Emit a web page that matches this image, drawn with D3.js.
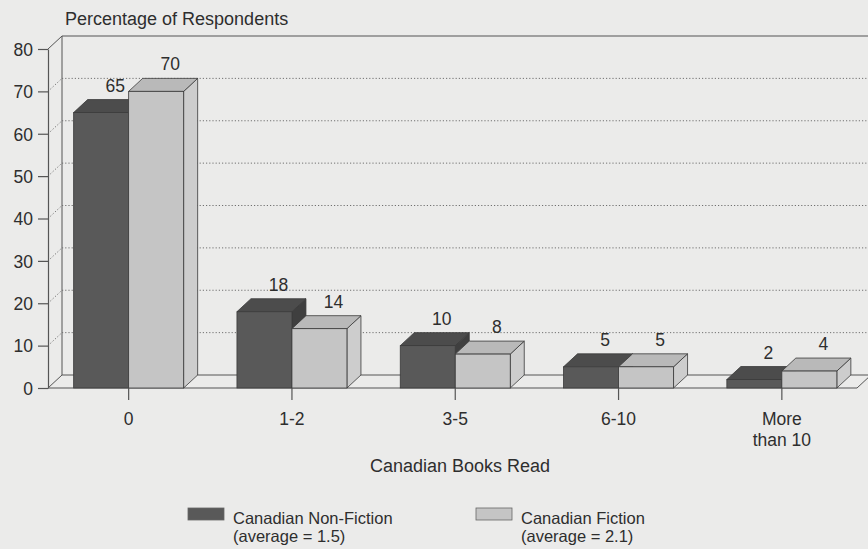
<!DOCTYPE html>
<html>
<head>
<meta charset="utf-8">
<script src="https://cdn.jsdelivr.net/npm/d3@7/dist/d3.min.js"></script>
<style>
  html, body { margin: 0; padding: 0; background: #ebebea; }
  svg { display: block; font-family: "Liberation Sans", Arial, Helvetica, sans-serif; }
  text { fill: #2e2e2e; }
</style>
</head>
<body>
<svg id="chart" width="868" height="549"></svg>
<script>
// Books read, share of respondents (%)
const categories = ["0", "1-2", "3-5", "6-10", "More than 10"];
const categoryLines = [["0"], ["1-2"], ["3-5"], ["6-10"], ["More", "than 10"]];
const nonFiction = [65, 18, 10, 5, 2];
const fiction = [70, 14, 8, 5, 4];
const seriesNames = ["Canadian Non-Fiction", "Canadian Fiction"];
const seriesNotes = ["(average = 1.5)", "(average = 2.1)"];
const yTicks = [0, 10, 20, 30, 40, 50, 60, 70, 80];
const yTitle = "Percentage of Respondents";
const xTitle = "Canadian Books Read";

const svg = d3.select("#chart");
const W = 868;

// depth of the 3D box (receding to the upper right)
const dx = 14, dy = 13;
const floorY = 388, topY = 49, axisX = 48;

const y = d3.scaleLinear().domain([0, 80]).range([floorY, topY]);
const x = d3.scaleBand().domain(categories).range([47, 863.5]).padding(0);
const inner = d3.scaleBand().domain(seriesNames).range([-55, 55]).padding(0);

const faces = [
  { front: "#595959", top: "#4c4c4c", side: "#3f3f3f" },
  { front: "#c5c5c5", top: "#b9b9b9", side: "#cdcdcd" }
];
const edge = "#3a3a3a";

const g = svg.append("g");

// back wall: solid outline and dotted gridlines
const backRight = W + 4;
g.append("line").attr("x1", axisX + dx).attr("y1", y(80) - dy).attr("x2", backRight).attr("y2", y(80) - dy)
  .attr("stroke", "#555").attr("stroke-width", 1.2);
g.append("line").attr("x1", axisX + dx).attr("y1", y(80) - dy).attr("x2", axisX + dx).attr("y2", floorY - dy)
  .attr("stroke", "#555").attr("stroke-width", 1);
g.append("line").attr("x1", axisX).attr("y1", y(80)).attr("x2", axisX + dx).attr("y2", y(80) - dy)
  .attr("stroke", "#555").attr("stroke-width", 1);

const gridVals = yTicks.filter(v => v > 0 && v < 80);
g.selectAll("line.gridback").data(gridVals).join("line")
  .attr("class", "gridback")
  .attr("x1", axisX + dx).attr("x2", backRight)
  .attr("y1", d => y(d) - dy).attr("y2", d => y(d) - dy)
  .attr("stroke", "#707070").attr("stroke-width", 1).attr("stroke-dasharray", "1.2,2");
g.selectAll("line.gridside").data(gridVals).join("line")
  .attr("class", "gridside")
  .attr("x1", axisX).attr("x2", axisX + dx)
  .attr("y1", d => y(d)).attr("y2", d => y(d) - dy)
  .attr("stroke", "#707070").attr("stroke-width", 1).attr("stroke-dasharray", "1.2,2");

// floor
const floorEnd = 857;
g.append("line").attr("x1", axisX).attr("y1", floorY).attr("x2", floorEnd).attr("y2", floorY)
  .attr("stroke", "#555").attr("stroke-width", 1.2);
g.append("line").attr("x1", axisX + dx).attr("y1", floorY - dy).attr("x2", backRight).attr("y2", floorY - dy)
  .attr("stroke", "#555").attr("stroke-width", 1);
g.append("line").attr("x1", axisX).attr("y1", floorY).attr("x2", axisX + dx).attr("y2", floorY - dy)
  .attr("stroke", "#555").attr("stroke-width", 1);
g.append("line").attr("x1", floorEnd).attr("y1", floorY).attr("x2", floorEnd + dx).attr("y2", floorY - dy)
  .attr("stroke", "#555").attr("stroke-width", 1);

// bars
const rows = categories.map((c, i) => ({ cat: c, values: [nonFiction[i], fiction[i]] }));
const barW = inner.bandwidth();

rows.forEach(row => {
  const cx = x(row.cat) + x.bandwidth() / 2;
  row.values.forEach((v, s) => {
    const x0 = cx + inner(seriesNames[s]);
    const yv = y(v);
    const col = faces[s];
    const bar = g.append("g");
    bar.append("polygon")
      .attr("points", [[x0 + barW, yv], [x0 + barW + dx, yv - dy], [x0 + barW + dx, floorY - dy], [x0 + barW, floorY]].join(" "))
      .attr("fill", col.side).attr("stroke", edge).attr("stroke-width", 0.8).attr("stroke-linejoin", "round");
    bar.append("polygon")
      .attr("points", [[x0, yv], [x0 + dx, yv - dy], [x0 + barW + dx, yv - dy], [x0 + barW, yv]].join(" "))
      .attr("fill", col.top).attr("stroke", edge).attr("stroke-width", 0.8).attr("stroke-linejoin", "round");
    bar.append("rect")
      .attr("x", x0).attr("y", yv).attr("width", barW).attr("height", floorY - yv)
      .attr("fill", col.front).attr("stroke", edge).attr("stroke-width", 0.8);
  });
});

// value labels above the top of each bar
rows.forEach(row => {
  const cx = x(row.cat) + x.bandwidth() / 2;
  row.values.forEach((v, s) => {
    const x0 = cx + inner(seriesNames[s]);
    g.append("text")
      .attr("x", x0 + barW / 2 + dx)
      .attr("y", y(v) - dy - 8)
      .attr("text-anchor", "middle")
      .attr("font-size", 17.5)
      .text(v);
  });
});

// y axis on the front plane
const yAxis = d3.axisLeft(y).tickValues(yTicks).tickSize(10).tickPadding(5).tickSizeOuter(0);
const ya = svg.append("g").attr("transform", `translate(${axisX},0)`).call(yAxis);
ya.select(".domain").attr("stroke", "#555").attr("stroke-width", 1.2);
ya.selectAll(".tick line").attr("stroke", "#555").attr("stroke-width", 1.2);
ya.selectAll(".tick text").attr("font-size", 17.5).attr("fill", "#2e2e2e")
  .attr("font-family", "Liberation Sans, Arial, sans-serif").attr("dy", "0.36em");

// x axis
const xAxis = d3.axisBottom(x).tickSize(12).tickSizeOuter(0).tickFormat(() => "");
const xa = svg.append("g").attr("transform", `translate(0,${floorY})`).call(xAxis);
xa.select(".domain").remove();
xa.selectAll(".tick line").attr("stroke", "#555").attr("stroke-width", 1.2);
xa.selectAll(".tick").each(function(d, i) {
  const t = d3.select(this).append("text")
    .attr("text-anchor", "middle").attr("font-size", 17.5).attr("fill", "#2e2e2e")
    .attr("font-family", "Liberation Sans, Arial, sans-serif");
  categoryLines[i].forEach((line, k) => {
    t.append("tspan").attr("x", 0).attr("y", 37 + k * 21).text(line);
  });
});

// titles
svg.append("text").attr("x", 65).attr("y", 25).attr("font-size", 18).text(yTitle);
svg.append("text").attr("x", 460).attr("y", 472).attr("text-anchor", "middle").attr("font-size", 18).text(xTitle);

// legend
const legendX = [188, 476];
seriesNames.forEach((name, s) => {
  const lg = svg.append("g").attr("transform", `translate(${legendX[s]},508)`);
  lg.append("rect").attr("width", 36).attr("height", 12)
    .attr("fill", faces[s].front).attr("stroke", "#666").attr("stroke-width", 0.8);
  lg.append("text").attr("font-size", 16.5).attr("x", 45).attr("y", 16).text(name);
  lg.append("text").attr("font-size", 16.5).attr("x", 45).attr("y", 34).text(seriesNotes[s]);
});
</script>
</body>
</html>
